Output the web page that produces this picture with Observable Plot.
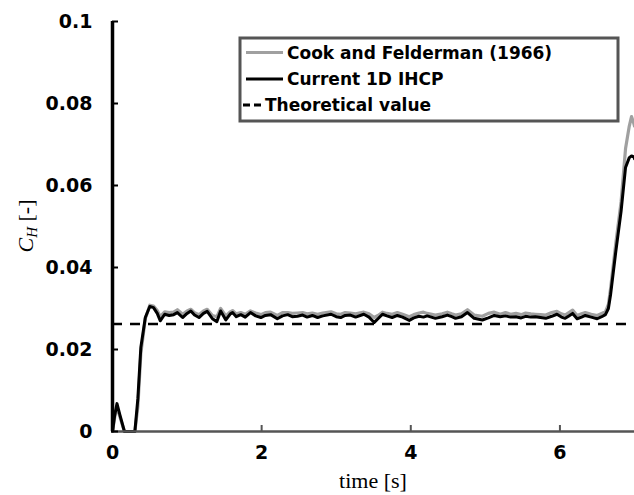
<!DOCTYPE html>
<html>
<head>
<meta charset="utf-8">
<script src="https://cdn.jsdelivr.net/npm/d3@7"></script>
<script src="https://cdn.jsdelivr.net/npm/@observablehq/plot@0.6"></script>
<style>
  html, body { margin: 0; padding: 0; background: #fff; }
  #chart svg { display: block; }
</style>
</head>
<body>
<div id="chart"></div>
<script>
// Time [s]
const time = [0.00,0.03,0.06,0.10,0.16,0.30,0.34,0.38,0.44,0.50,0.55,0.60,0.64,0.70,0.76,0.82,0.87,0.94,1.00,1.05,
  1.10,1.16,1.22,1.27,1.34,1.40,1.45,1.52,1.58,1.61,1.66,1.72,1.78,1.85,1.92,1.99,2.05,2.12,2.21,2.28,
  2.35,2.41,2.48,2.55,2.61,2.68,2.75,2.82,2.93,3.00,3.06,3.12,3.19,3.26,3.37,3.44,3.51,3.56,3.62,3.68,
  3.75,3.82,3.89,3.98,4.04,4.11,4.17,4.22,4.33,4.42,4.49,4.55,4.60,4.68,4.76,4.85,4.96,5.04,5.12,5.20,
  5.27,5.34,5.41,5.48,5.54,5.61,5.67,5.74,5.81,5.89,5.96,6.02,6.07,6.12,6.17,6.23,6.29,6.34,6.42,6.50,
  6.56,6.61,6.65,6.68,6.75,6.82,6.88,6.93,6.96,6.99,7.00];
// Current 1D IHCP (black)
const ihcp = [0.0000,0.0040,0.0068,0.0040,0.0000,0.0000,0.0080,0.0205,0.0278,0.0305,0.0302,0.0288,0.0270,0.0286,0.0283,0.0285,0.0290,0.0278,0.0288,0.0294,
  0.0284,0.0278,0.0288,0.0293,0.0275,0.0268,0.0294,0.0272,0.0287,0.0290,0.0280,0.0285,0.0279,0.0290,0.0282,0.0278,0.0283,0.0285,0.0275,0.0282,
  0.0285,0.0280,0.0281,0.0284,0.0279,0.0283,0.0278,0.0282,0.0286,0.0280,0.0278,0.0283,0.0284,0.0279,0.0286,0.0279,0.0266,0.0275,0.0286,0.0282,
  0.0278,0.0283,0.0279,0.0271,0.0277,0.0281,0.0279,0.0282,0.0276,0.0280,0.0284,0.0280,0.0276,0.0280,0.0290,0.0276,0.0272,0.0277,0.0283,0.0280,
  0.0282,0.0279,0.0280,0.0277,0.0281,0.0279,0.0280,0.0278,0.0276,0.0281,0.0286,0.0279,0.0276,0.0282,0.0288,0.0275,0.0279,0.0283,0.0279,0.0275,
  0.0280,0.0285,0.0300,0.0335,0.0440,0.0537,0.0644,0.0668,0.0672,0.0670,0.0665];
// Cook and Felderman (1966) (grey)
const cook = [0.0000,0.0035,0.0060,0.0035,0.0000,0.0000,0.0060,0.0190,0.0275,0.0308,0.0306,0.0295,0.0280,0.0292,0.0290,0.0291,0.0297,0.0286,0.0294,0.0298,
  0.0290,0.0285,0.0294,0.0298,0.0283,0.0280,0.0300,0.0282,0.0292,0.0295,0.0287,0.0290,0.0286,0.0294,0.0289,0.0285,0.0290,0.0291,0.0283,0.0290,
  0.0290,0.0288,0.0289,0.0290,0.0287,0.0289,0.0286,0.0289,0.0292,0.0287,0.0286,0.0290,0.0289,0.0287,0.0291,0.0287,0.0278,0.0283,0.0291,0.0288,
  0.0286,0.0290,0.0286,0.0280,0.0285,0.0289,0.0291,0.0288,0.0284,0.0287,0.0291,0.0287,0.0284,0.0287,0.0297,0.0284,0.0281,0.0288,0.0291,0.0286,
  0.0290,0.0286,0.0288,0.0285,0.0289,0.0287,0.0286,0.0285,0.0284,0.0290,0.0293,0.0287,0.0284,0.0290,0.0296,0.0283,0.0287,0.0290,0.0286,0.0283,
  0.0288,0.0292,0.0310,0.0350,0.0460,0.0560,0.0690,0.0745,0.0768,0.0752,0.0745];
const theoretical = 0.0262;
const xTicks = [0, 2, 4, 6];
const yTicks = [0, 0.02, 0.04, 0.06, 0.08, 0.1];
const seriesNames = ["Cook and Felderman (1966)", "Current 1D IHCP", "Theoretical value"];

const W = 634, H = 495, ML = 112, MR = 0, MT = 21, MB = 64;
const cookData = time.map((t, i) => ({t, v: cook[i]}));
const ihcpData = time.map((t, i) => ({t, v: ihcp[i]}));

const plot = Plot.plot({
  width: W, height: H,
  marginLeft: ML, marginRight: MR, marginTop: MT, marginBottom: MB,
  style: {background: "#fff", fontFamily: "DejaVu Sans", fontWeight: "bold", fontSize: "18px", color: "#000"},
  x: {domain: [0, 7], ticks: xTicks},
  y: {domain: [0, 0.1], ticks: yTicks},
  marks: [
    Plot.ruleY([theoretical], {stroke: "#000", strokeWidth: 2.5, strokeDasharray: "10,8"}),
    Plot.line(cookData, {x: "t", y: "v", stroke: "#a0a0a0", strokeWidth: 3.2, strokeLinejoin: "round"}),
    Plot.line(ihcpData, {x: "t", y: "v", stroke: "#000", strokeWidth: 3, strokeLinejoin: "round"}),
    Plot.ruleY([0], {stroke: "#555", strokeWidth: 2.5}),
    Plot.tickX(xTicks, {x: d => d, stroke: "#555", strokeWidth: 2, insetTop: H - MB - MT - 6}),
    Plot.ruleX([0], {stroke: "#000", strokeWidth: 3.5}),
    Plot.tickY(yTicks, {y: d => d, stroke: "#000", strokeWidth: 2, insetRight: W - ML - MR - 6}),
    Plot.axisX({ticks: xTicks, tickSize: 0, tickPadding: 14, tickFormat: d => String(d), label: null, fontSize: 19}),
    Plot.axisY({ticks: yTicks, tickSize: 0, tickPadding: 20, tickFormat: d => String(+d.toFixed(2)), label: null, fontSize: 19})
  ]
});
document.getElementById("chart").appendChild(plot);

const svg = d3.select(plot);
// Axis labels (serif, LaTeX-like)
const ylab = svg.append("text")
  .attr("transform", "translate(33,226) rotate(-90)")
  .attr("text-anchor", "middle")
  .attr("font-family", "Liberation Serif")
  .attr("font-weight", "normal")
  .attr("font-size", 22)
  .attr("fill", "#000");
ylab.append("tspan").attr("font-style", "italic").text("C");
ylab.append("tspan").attr("font-style", "italic").attr("font-size", 15).attr("dy", 4).text("H");
ylab.append("tspan").attr("dy", -4).text(" [-]");

svg.append("text")
  .attr("x", (ML + W - MR) / 2).attr("y", 488)
  .attr("text-anchor", "middle")
  .attr("font-family", "Liberation Serif")
  .attr("font-weight", "normal")
  .attr("font-size", 22)
  .attr("fill", "#000")
  .text("time [s]");

// Legend
const lg = svg.append("g").attr("font-family", "DejaVu Sans").attr("font-weight", "bold")
  .attr("font-size", 17).attr("text-anchor", "start");
lg.append("rect").attr("x", 240).attr("y", 38).attr("width", 378).attr("height", 83)
  .attr("fill", "#fff").attr("stroke", "#555").attr("stroke-width", 3);
const rows = [52.5, 79, 105];
lg.append("line").attr("x1", 246).attr("x2", 283).attr("y1", rows[0]).attr("y2", rows[0]).attr("stroke", "#a0a0a0").attr("stroke-width", 3);
lg.append("line").attr("x1", 246).attr("x2", 283).attr("y1", rows[1]).attr("y2", rows[1]).attr("stroke", "#000").attr("stroke-width", 3);
lg.append("line").attr("x1", 243).attr("x2", 261).attr("y1", rows[2]).attr("y2", rows[2]).attr("stroke", "#000").attr("stroke-width", 3).attr("stroke-dasharray", "7,4");
[[287, seriesNames[0]], [287, seriesNames[1]], [265, seriesNames[2]]].forEach(([x, s], i) => {
  lg.append("text").attr("x", x).attr("y", rows[i]).attr("dy", "0.36em").attr("fill", "#000").text(s);
});
</script>
</body>
</html>
